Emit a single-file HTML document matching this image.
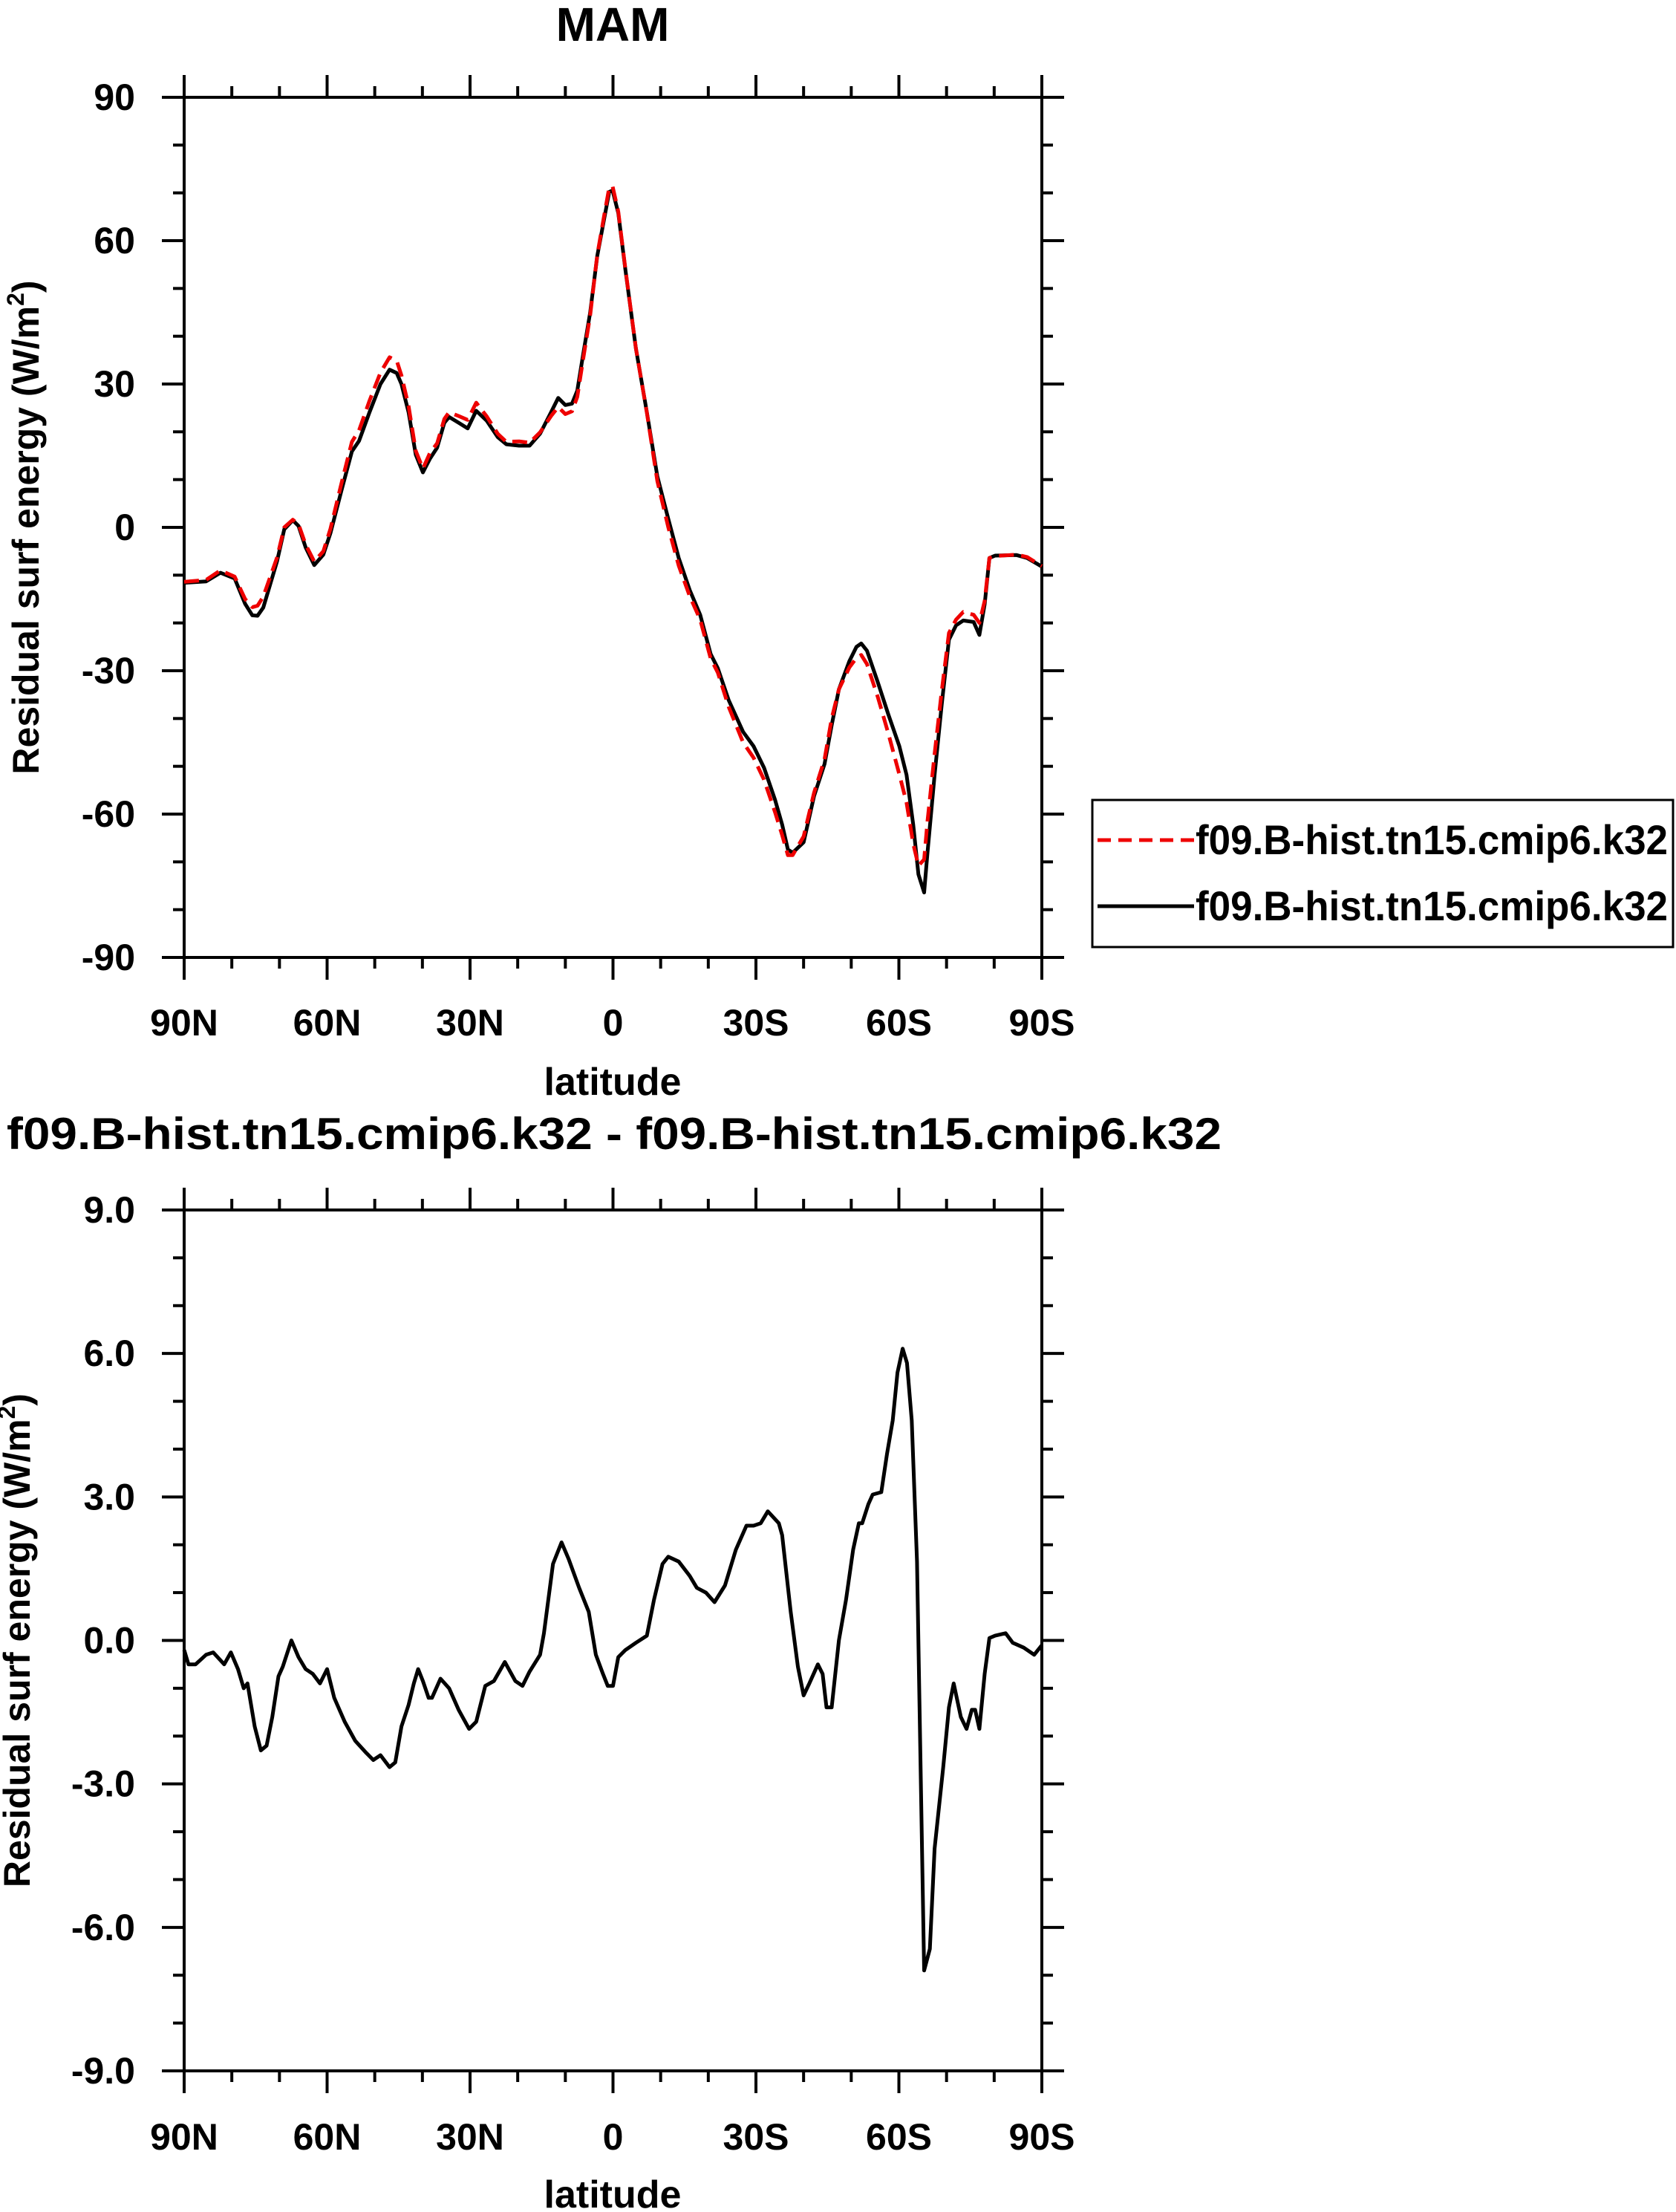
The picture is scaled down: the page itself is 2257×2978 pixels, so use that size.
<!DOCTYPE html>
<html><head><meta charset="utf-8"><style>
html,body{margin:0;padding:0;background:#fff;}
svg{display:block;font-family:"Liberation Sans",Arial,sans-serif;font-weight:bold;}
</style></head><body>
<svg id="fig" width="2257" height="2978" viewBox="0 0 2257 2978" xmlns="http://www.w3.org/2000/svg">
<text x="825" y="55" font-size="64" text-anchor="middle">MAM</text>
<text x="9" y="1547" font-size="60" textLength="1636" lengthAdjust="spacingAndGlyphs">f09.B-hist.tn15.cmip6.k32 - f09.B-hist.tn15.cmip6.k32</text>
<g id="top"></g>
<g id="bot"></g>
<g>
<rect x="1471" y="1077" width="782" height="198" fill="none" stroke="#000" stroke-width="3"/>
<line x1="1478" y1="1131" x2="1608" y2="1131" stroke="#e00" stroke-width="5" stroke-dasharray="18,10"/>
<text x="1610" y="1150" font-size="56" textLength="636" lengthAdjust="spacingAndGlyphs">f09.B-hist.tn15.cmip6.k32</text>
<line x1="1478" y1="1220" x2="1608" y2="1220" stroke="#000" stroke-width="5"/>
<text x="1610" y="1239" font-size="56" textLength="636" lengthAdjust="spacingAndGlyphs">f09.B-hist.tn15.cmip6.k32</text>
</g>
</svg>
<script>
const blackLat=[90,85.4,82.4,79.4,77.2,75.7,74.6,73.4,70.5,69,67.2,66,64.5,62.7,60.8,59.3,57,54.8,53.3,51.1,48.8,46.9,45.4,44.4,42.9,41.4,39.9,38.4,36.9,35.4,34.4,32.4,30.5,28.7,26.5,24.2,22.4,19.7,17.5,15.3,13.0,11.5,10.0,8.6,7.5,6.3,4.8,3.3,1.9,0.8,0.1,-1.1,-2.6,-4.8,-7.1,-9.3,-11.6,-13.8,-16.1,-18.3,-20.5,-22,-24.3,-27.3,-29.5,-31.7,-34,-35.5,-36.7,-37.7,-40,-42.2,-44.4,-45.9,-47.4,-49.6,-51.1,-52.1,-53.3,-55.6,-57.8,-60.1,-61.6,-63,-64.1,-65.3,-66,-67.5,-69,-70.5,-72,-73.5,-75.7,-76.9,-78,-79,-80.2,-84.7,-86.9,-90];
const blackVal=[-11.6,-11.3,-9.5,-10.7,-16,-18.4,-18.5,-16.8,-7.1,-0.4,1.5,0.3,-4.2,-7.9,-5.7,-1.2,7.7,15.9,18.1,24.1,30,33,32.3,30,24.1,15.2,11.5,14.4,16.7,21.9,23.1,21.9,20.7,24.4,22.3,18.9,17.4,17.1,17.1,19.6,24.1,27.1,25.6,25.9,28.6,36,44.9,56.8,64.3,70.2,70.5,65.8,53.9,37.5,24.1,10.7,1.8,-6.4,-13.1,-18.3,-26.5,-29.5,-36.2,-42.8,-45.8,-50.3,-57,-62.2,-67.4,-68.1,-65.9,-56.2,-49.5,-41.4,-33.9,-28,-25,-24.3,-25.8,-32.5,-39.2,-45.8,-51.8,-62.2,-72.6,-76.4,-68.1,-51.8,-36.9,-23.5,-20.5,-19.5,-19.8,-22.5,-16.1,-6.4,-5.9,-5.8,-6.4,-8.2];
const redLat=blackLat;
const redVal=[-11.4,-11.0,-9.0,-10.3,-15,-16.7,-16.4,-14.5,-6.3,0,1.6,0.65,-3.6,-7.15,-5.0,-0.3,9.2,17.9,20.3,26.5,32.4,35.6,34.9,31.8,25.4,16,12.3,15.6,17.6,22.7,24.1,23.3,22.5,26.1,23.2,19.6,17.9,18.0,17.7,19.9,23.3,25.2,23.7,24.3,27.3,35,44.3,57,65,71.1,71.4,66.1,54.1,37.5,24.0,9.7,0.05,-8.0,-14.4,-19.3,-27.4,-30.4,-37.6,-45,-48.2,-52.8,-59.6,-64.4,-68.6,-68.6,-64.7,-55.5,-48.5,-40,-33.9,-29.3,-27.3,-26.7,-28.6,-35.6,-43.2,-51.7,-57.6,-66.2,-70.8,-69.5,-61.5,-47.4,-34.1,-22.1,-19.3,-17.7,-18.3,-20,-15.4,-6.4,-6.0,-5.7,-6.2,-8.1];
const diffLat=[90,89.1,87.6,85.4,83.9,81.6,80.2,78.7,77.5,76.7,75.2,73.9,72.7,71.5,70.2,69.3,67.5,66,64.5,63,61.5,60,58.5,56.3,54.1,51.8,50.3,48.8,46.9,45.7,44.4,42.9,41.8,40.9,39.9,38.7,38,36.2,34.4,32.4,30.2,28.7,26.8,25,22.7,20.5,19,17.5,15.3,14.5,12.6,10.8,9.3,7.1,5.1,3.6,2.1,1.1,0,-1.1,-2.6,-4.8,-7.1,-8.6,-10.4,-11.6,-13.8,-16.1,-17.6,-19.5,-21.3,-23.5,-25.8,-28,-29.5,-31,-32.5,-34.8,-35.5,-37.3,-38.8,-40,-41.2,-43,-44,-44.8,-45.9,-47.4,-48.9,-50.4,-51.6,-52.3,-53.6,-54.5,-56.3,-57.5,-58.7,-59.7,-60.8,-61.7,-62.7,-63.8,-65.3,-66.5,-67.5,-69.3,-70.5,-71.5,-73,-74.2,-75.3,-76,-76.9,-78,-79,-80.2,-82.4,-83.9,-86.2,-88.4,-90];
const diffVal=[-0.2,-0.5,-0.5,-0.3,-0.25,-0.5,-0.25,-0.6,-1.0,-0.9,-1.8,-2.3,-2.2,-1.6,-0.75,-0.55,0.0,-0.35,-0.6,-0.7,-0.9,-0.6,-1.2,-1.7,-2.1,-2.35,-2.5,-2.4,-2.65,-2.55,-1.8,-1.35,-0.9,-0.6,-0.85,-1.2,-1.2,-0.8,-1.0,-1.45,-1.85,-1.7,-0.95,-0.85,-0.45,-0.85,-0.95,-0.65,-0.3,0.15,1.6,2.05,1.7,1.1,0.6,-0.3,-0.7,-0.95,-0.95,-0.35,-0.2,-0.05,0.1,0.85,1.6,1.75,1.65,1.35,1.1,1.0,0.8,1.15,1.9,2.4,2.4,2.45,2.7,2.45,2.2,0.6,-0.55,-1.15,-0.9,-0.5,-0.7,-1.4,-1.4,0.0,0.85,1.9,2.45,2.45,2.85,3.05,3.1,3.9,4.6,5.6,6.1,5.8,4.6,1.65,-6.9,-6.45,-4.35,-2.65,-1.4,-0.9,-1.6,-1.85,-1.45,-1.45,-1.85,-0.7,0.05,0.1,0.15,-0.05,-0.15,-0.3,-0.1];
const xTickLats=[90,60,30,0,-30,-60,-90];
const xTickLabels=["90N","60N","30N","0","30S","60S","90S"];
const topYTicks=[90,60,30,0,-30,-60,-90];
const topYLabels=["90","60","30","0","-30","-60","-90"];
const botYTicks=[9,6,3,0,-3,-6,-9];
const botYLabels=["9.0","6.0","3.0","0.0","-3.0","-6.0","-9.0"];

const NS="http://www.w3.org/2000/svg";
const L=248,R=1403;
function xs(lat){return L+(90-lat)/180*(R-L);}
function mk(tag,parent,attrs){const e=document.createElementNS(NS,tag);for(const k in attrs)e.setAttribute(k,attrs[k]);parent.appendChild(e);return e;}

function panel(g,top,bot,ymax,yTicks,yLabels,minorStep,xlabY,latY,titleX,titleLen){
  const ys=v=>top+(ymax-v)/(2*ymax)*(bot-top);
  // minor ticks
  for(let lat=90;lat>=-90;lat-=10){
    const x=xs(lat);const major=lat%30===0;const len=major?30:15;
    const t1=mk('line',g,{x1:x,y1:top,x2:x,y2:top-len,stroke:'#000','stroke-width':4});
    
    
    const t2=mk('line',g,{x1:x,y1:bot,x2:x,y2:bot+len,stroke:'#000','stroke-width':4});
    
    
  }
  const n=Math.round(2*ymax/minorStep);
  for(let i=0;i<=n;i++){
    const v=-ymax+i*minorStep;const y=ys(v);
    const major=Math.abs(Math.round(v/(ymax/3)*1000)/1000-Math.round(v/(ymax/3)))<1e-6;
    const len=major?30:15;
    const a=mk('line',g,{x1:L,y1:y,x2:L-len,y2:y,stroke:'#000','stroke-width':4});
    
    
    const b=mk('line',g,{x1:R,y1:y,x2:R+len,y2:y,stroke:'#000','stroke-width':4});
    
    
  }
  const box=mk('rect',g,{x:L,y:top,width:R-L,height:bot-top,fill:'none',stroke:'#000','stroke-width':4});
  
  
  xTickLats.forEach((lat,i)=>{
    const t=mk('text',g,{x:xs(lat),y:xlabY,'font-size':50,'text-anchor':'middle'});
    t.textContent=xTickLabels[i];
    
    
  });
  yTicks.forEach((v,i)=>{
    const t=mk('text',g,{x:182,y:ys(v)+17,'font-size':50,'text-anchor':'end'});
    t.textContent=yLabels[i];
    
    
  });
  const xt=mk('text',g,{x:825,y:latY,'font-size':52,'text-anchor':'middle'});
  xt.textContent='latitude';
  
  
  const cy=(top+bot)/2;
  const yt=mk('text',g,{x:0,y:0,'font-size':50,'text-anchor':'middle',transform:`translate(${titleX},${cy}) rotate(-90)`});
  
  
  const s1=mk('tspan',yt,{});s1.textContent='Residual surf energy (W/m';
  const s2=mk('tspan',yt,{dy:-20,'font-size':32});s2.textContent='2';
  const s3=mk('tspan',yt,{dy:20});s3.textContent=')';
  return ys;
}
function line(g,lats,vals,ys,color,dash,name){
  const d=lats.map((lat,i)=>(i?'L':'M')+xs(lat).toFixed(1)+','+ys(vals[i]).toFixed(1)).join(' ');
  const p=mk('path',g,{d:d,fill:'none',stroke:color,'stroke-width':5,'stroke-linejoin':'round'});
  if(dash)p.setAttribute('stroke-dasharray',dash);
  
  
}
const gt=document.getElementById('top');
const ysT=panel(gt,131,1289,90,topYTicks,topYLabels,10,1394,1474,52);
line(gt,blackLat,blackVal,ysT,'#000',null,'series-black');
line(gt,redLat,redVal,ysT,'#e00','20,10','series-red-dashed');
const gb=document.getElementById('bot');
const ysB=panel(gb,1629,2788,9,botYTicks,botYLabels,1,2894,2972,40);
line(gb,diffLat,diffVal,ysB,'#000',null,'series-difference');
</script>
</body></html>
